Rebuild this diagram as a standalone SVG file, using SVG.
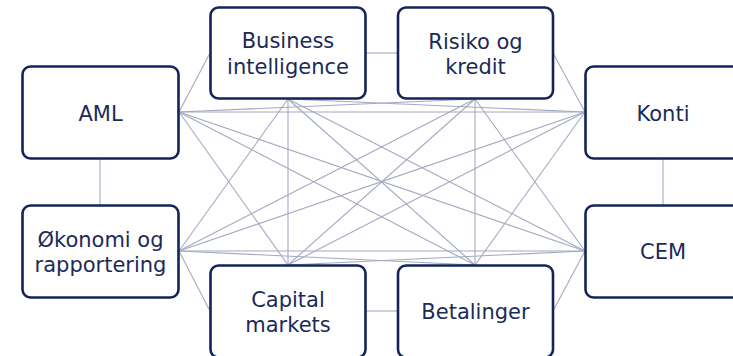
<svg xmlns="http://www.w3.org/2000/svg" width="733" height="356" viewBox="0 0 733 356">
<style>
.box{fill:#ffffff;stroke:#14245a;stroke-width:2.6}
.lbl{font-family:"DejaVu Sans","Liberation Sans",sans-serif;font-size:21px;fill:#1c2a57;text-anchor:middle}
.ln{stroke:#a4a9c2;stroke-width:1.1;fill:none}
</style>
<rect width="733" height="356" fill="#ffffff"/>
<g id="connectors">
<line class="ln" x1="100" y1="159" x2="100" y2="205"/>
<line class="ln" x1="179" y1="112" x2="210" y2="53"/>
<line class="ln" x1="179" y1="112" x2="475" y2="99"/>
<line class="ln" x1="179" y1="112" x2="585" y2="112"/>
<line class="ln" x1="179" y1="112" x2="585" y2="251"/>
<line class="ln" x1="179" y1="112" x2="288" y2="265"/>
<line class="ln" x1="179" y1="112" x2="475" y2="265"/>
<line class="ln" x1="179" y1="251" x2="288" y2="99"/>
<line class="ln" x1="179" y1="251" x2="475" y2="99"/>
<line class="ln" x1="179" y1="251" x2="585" y2="112"/>
<line class="ln" x1="179" y1="251" x2="585" y2="251"/>
<line class="ln" x1="179" y1="251" x2="210" y2="311"/>
<line class="ln" x1="179" y1="251" x2="475" y2="265"/>
<line class="ln" x1="366" y1="53" x2="398" y2="53"/>
<line class="ln" x1="288" y1="99" x2="585" y2="112"/>
<line class="ln" x1="288" y1="99" x2="585" y2="251"/>
<line class="ln" x1="288" y1="99" x2="288" y2="265"/>
<line class="ln" x1="288" y1="99" x2="475" y2="265"/>
<line class="ln" x1="553" y1="53" x2="585" y2="112"/>
<line class="ln" x1="475" y1="99" x2="585" y2="251"/>
<line class="ln" x1="475" y1="99" x2="288" y2="265"/>
<line class="ln" x1="475" y1="99" x2="475" y2="265"/>
<line class="ln" x1="663" y1="159" x2="663" y2="205"/>
<line class="ln" x1="585" y1="112" x2="288" y2="265"/>
<line class="ln" x1="585" y1="112" x2="475" y2="265"/>
<line class="ln" x1="585" y1="251" x2="288" y2="265"/>
<line class="ln" x1="585" y1="251" x2="553" y2="311"/>
<line class="ln" x1="366" y1="311" x2="398" y2="311"/>
</g>
<g id="aml">
<rect class="box" x="22.5" y="66.5" width="156" height="92" rx="8"/>
<text class="lbl" x="100.5" y="120.5">AML</text>
</g>
<g id="business-intelligence">
<rect class="box" x="210.5" y="7.5" width="155" height="91" rx="8"/>
<text class="lbl" x="288" y="48">Business</text>
<text class="lbl" x="288" y="74">intelligence</text>
</g>
<g id="risiko-og-kredit">
<rect class="box" x="398" y="7.5" width="155" height="91" rx="8"/>
<text class="lbl" x="475.5" y="48.5">Risiko og</text>
<text class="lbl" x="475.5" y="74">kredit</text>
</g>
<g id="konti">
<rect class="box" x="585.5" y="66.5" width="156" height="92" rx="8"/>
<text class="lbl" x="663" y="120.5">Konti</text>
</g>
<g id="okonomi-og-rapportering">
<rect class="box" x="22.5" y="205.5" width="156" height="92" rx="8"/>
<text class="lbl" x="100.5" y="246.5">Økonomi og</text>
<text class="lbl" x="100.5" y="271.5">rapportering</text>
</g>
<g id="cem">
<rect class="box" x="585.5" y="205.5" width="156" height="92" rx="8"/>
<text class="lbl" x="663" y="258.5">CEM</text>
</g>
<g id="capital-markets">
<rect class="box" x="210.5" y="265.5" width="155" height="92" rx="8"/>
<text class="lbl" x="288" y="306.5">Capital</text>
<text class="lbl" x="288" y="331.5">markets</text>
</g>
<g id="betalinger">
<rect class="box" x="398" y="265.5" width="155" height="92" rx="8"/>
<text class="lbl" x="475.5" y="319">Betalinger</text>
</g>
</svg>
